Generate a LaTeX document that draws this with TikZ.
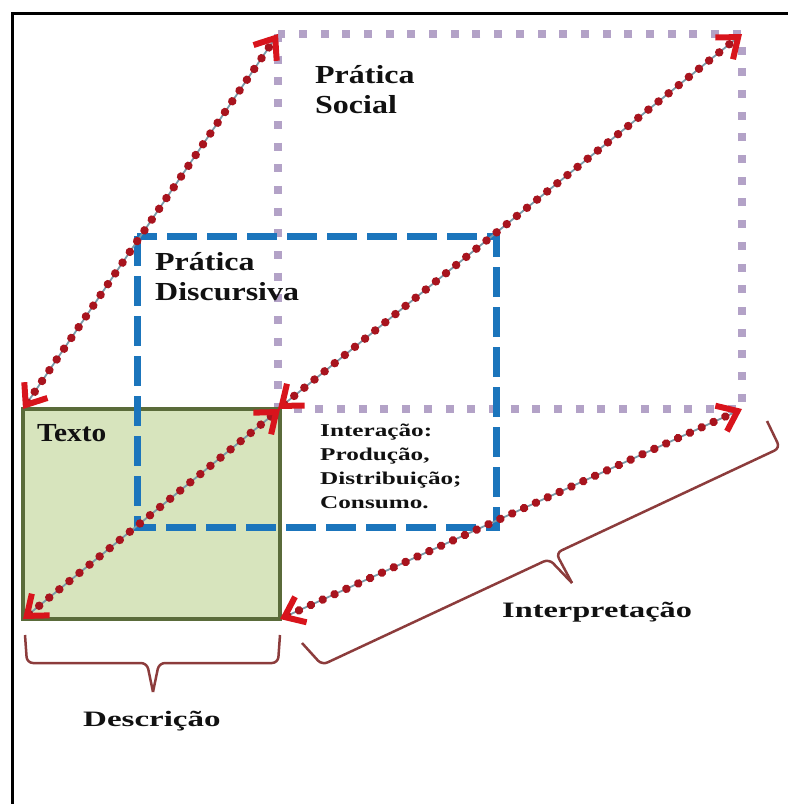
\documentclass[tikz,border=0pt]{standalone}
\usepackage{fontspec}
\usepackage{graphicx}
\setmainfont{Liberation Serif}
\usetikzlibrary{arrows.meta}
\definecolor{ink}{HTML}{111111}
\definecolor{olive}{HTML}{5A6B3A}
\definecolor{leaf}{HTML}{D7E4BD}
\definecolor{lilac}{HTML}{B3A2C7}
\definecolor{sky}{HTML}{1B75BC}
\definecolor{wine}{HTML}{A8141E}
\definecolor{flame}{HTML}{D8141C}
\definecolor{steel}{HTML}{7A9AA8}
\definecolor{bracket}{HTML}{8C3C3C}
\newcommand{\wide}[2]{\scalebox{#1}[1]{#2}}
\newcommand{\fsize}[2]{\fontsize{#1}{#2}\selectfont}

\begin{document}
\begin{tikzpicture}[x=1pt,y=-1pt,
  >={Straight Barb[length=18pt,width=28pt,line width=6pt,color=flame]},
  lbl/.style={font=\bfseries, text=ink, inner sep=0pt, anchor=base west, align=left},
  rail/.style={draw=steel, line width=1.8pt, shorten <=6pt, shorten >=6pt},
  link/.style={<->, draw=wine, line width=8.5pt, line cap=round,
    dash pattern=on 0.01pt off 13pt},
  brace/.style={draw=bracket, line width=2.5pt, rounded corners=6pt}]
  \useasboundingbox (0,0) rectangle (788,804);

  % frame
  \draw[line width=3pt] (12,804) -- (12,13) -- (788,13);

  % corners of the three boxes
  \coordinate (soc-nw) at (278,34);
  \coordinate (soc-ne) at (742,34);
  \coordinate (soc-sw) at (278,409);
  \coordinate (soc-se) at (742,409);
  \coordinate (dis-nw) at (137,236);
  \coordinate (dis-se) at (496,527);
  \coordinate (txt-nw) at (23,409);
  \coordinate (txt-ne) at (280,409);
  \coordinate (txt-sw) at (23,619);
  \coordinate (txt-se) at (280,619);

  % Pratica social
  \draw[draw=lilac, line width=8pt, dash pattern=on 8pt off 13.7pt]
    (soc-nw) rectangle (soc-se);
  % Texto
  \draw[draw=olive, fill=leaf, line width=4pt] (txt-nw) rectangle (txt-se);
  % Pratica discursiva
  \draw[draw=sky, line width=7pt, dash pattern=on 30pt off 10pt]
    (dis-nw) rectangle (dis-se);

  % diagonals
  \foreach \a/\b in {txt-nw/soc-nw, soc-sw/soc-ne, txt-sw/txt-ne, txt-se/soc-se} {
    \draw[rail] (\a) -- (\b);
    \draw[link] (\a) -- (\b);
  }

  % base of a multi-line label is its last line
  \node[lbl, font=\bfseries\fsize{26}{30}] (social) at (315,113)
    {\wide{1.23}{Prática}\\\wide{1.23}{Social}};
  \node[lbl, font=\bfseries\fsize{26}{30}] (discursiva) at (155,300)
    {\wide{1.23}{Prática}\\\wide{1.23}{Discursiva}};
  \node[lbl, font=\bfseries\fsize{26}{30}] (texto) at (37,441)
    {\wide{1.13}{Texto}};
  \node[lbl, font=\bfseries\fsize{18}{24}] (interacao) at (320,508)
    {\wide{1.4}{Interação:}\\\wide{1.4}{Produção,}\\
     \wide{1.4}{Distribuição;}\\\wide{1.4}{Consumo.}};

  % braces
  \draw[brace] (25,635) -- (27,663) -- (147,663) -- (153,692);
  \draw[brace] (280,635) -- (278,663) -- (159,663) -- (153,692);
  \draw[brace] (302,643) -- (322,665) -- (549,559) -- (572,583);
  \draw[brace] (767,421) -- (780,448) -- (556,553) -- (572,583);

  \node[lbl, font=\bfseries\fsize{22}{26}] (interpretacao) at (502,617)
    {\wide{1.47}{Interpretação}};
  \node[lbl, font=\bfseries\fsize{22}{26}] (descricao) at (83,726)
    {\wide{1.5}{Descrição}};
\end{tikzpicture}
\end{document}
